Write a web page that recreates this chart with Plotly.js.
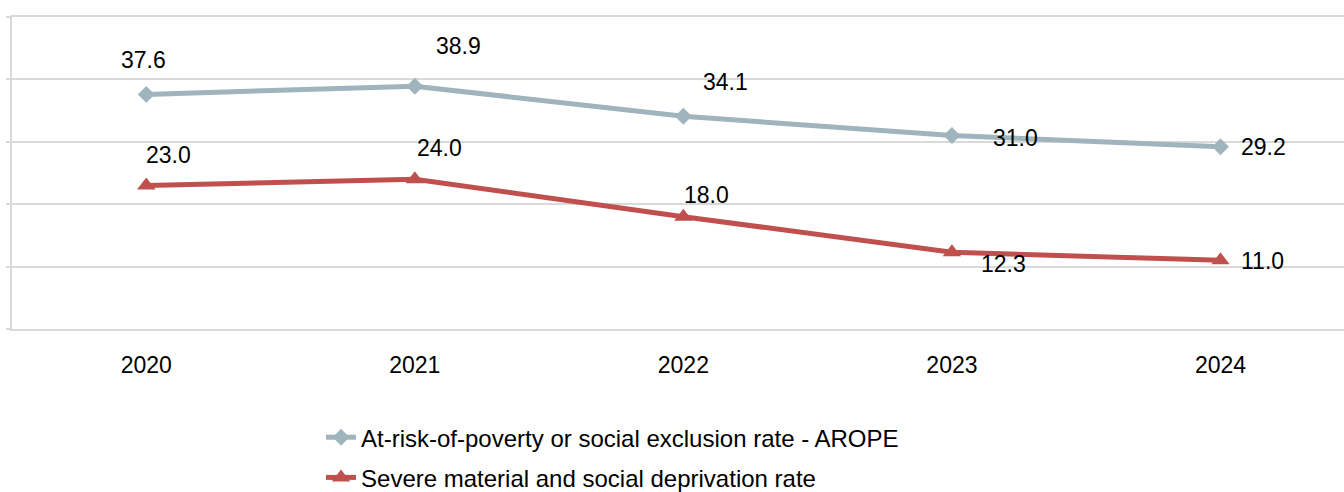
<!DOCTYPE html>
<html>
<head>
<meta charset="utf-8">
<script src="https://cdn.plot.ly/plotly-3.0.1.min.js"></script>
<style>html,body{margin:0;padding:0;background:#fff;}#chart{width:1344px;height:492px;}</style>
</head>
<body>
<div id="chart"></div>
<script>
var years = ['2020', '2021', '2022', '2023', '2024'];
var aropeName = 'At-risk-of-poverty or social exclusion rate - AROPE';
var aropeValues = [37.6, 38.9, 34.1, 31.0, 29.2];
var smsdName = 'Severe material and social deprivation rate';
var smsdValues = [23.0, 24.0, 18.0, 12.3, 11.0];

// label offsets in pixels (placement only)
var aropeLabelShift = [[-3, 34], [44, 40], [42, 34], [64, -2], [43, 0]];
var smsdLabelShift = [[22, 30], [25, 31], [23, 22], [52, -12], [42, -1]];

var aropeColor = '#9fb4bc';
var smsdColor = '#c0504d';
var font = 'Liberation Sans, Arial, sans-serif';

var traces = [
  {
    x: years, y: aropeValues, name: aropeName, type: 'scatter', mode: 'lines+markers',
    line: {color: aropeColor, width: 5},
    marker: {symbol: 'diamond', size: 13, color: aropeColor},
    legendgroup: 'a', cliponaxis: false
  },
  {
    x: years, y: smsdValues, name: smsdName, type: 'scatter', mode: 'lines+markers',
    line: {color: smsdColor, width: 5},
    marker: {symbol: 'triangle-up', size: 16, color: smsdColor},
    legendgroup: 'b', cliponaxis: false
  }
];

var annotations = [];
function addLabels(vals, shifts) {
  vals.forEach(function (v, i) {
    annotations.push({
      x: i, y: v, xref: 'x', yref: 'y', text: v.toFixed(1),
      showarrow: false, xshift: shifts[i][0], yshift: shifts[i][1],
      font: {family: font, size: 23, color: '#000'}
    });
  });
}
addLabels(aropeValues, aropeLabelShift);
addLabels(smsdValues, smsdLabelShift);

var layout = {
  width: 1344, height: 492,
  margin: {l: 12, r: 0, t: 17, b: 163, autoexpand: false},
  paper_bgcolor: '#fff', plot_bgcolor: '#fff',
  showlegend: true,
  legend: {
    x: 0.232, xanchor: 'left', y: -0.276, yanchor: 'top',
    font: {family: font, size: 24, color: '#000'},
    traceorder: 'grouped', tracegroupgap: 6,
    bgcolor: 'rgba(0,0,0,0)'
  },
  xaxis: {
    type: 'category', range: [-0.5, 4.46],
    showgrid: false, zeroline: false,
    showline: true, mirror: true, linecolor: '#d9d9d9', linewidth: 2,
    ticks: '', ticklabelstandoff: 14,
    tickfont: {family: font, size: 23, color: '#000'},
    fixedrange: true
  },
  yaxis: {
    range: [0, 50], dtick: 10, tick0: 0,
    showgrid: true, gridcolor: '#d9d9d9', gridwidth: 2,
    zeroline: false, showline: true, linecolor: '#d9d9d9', linewidth: 2,
    ticks: 'outside', ticklen: 4, tickcolor: '#d9d9d9', tickwidth: 2,
    showticklabels: false, fixedrange: true
  },
  annotations: annotations
};

Plotly.newPlot('chart', traces, layout, {displayModeBar: false, staticPlot: true});
</script>
</body>
</html>
